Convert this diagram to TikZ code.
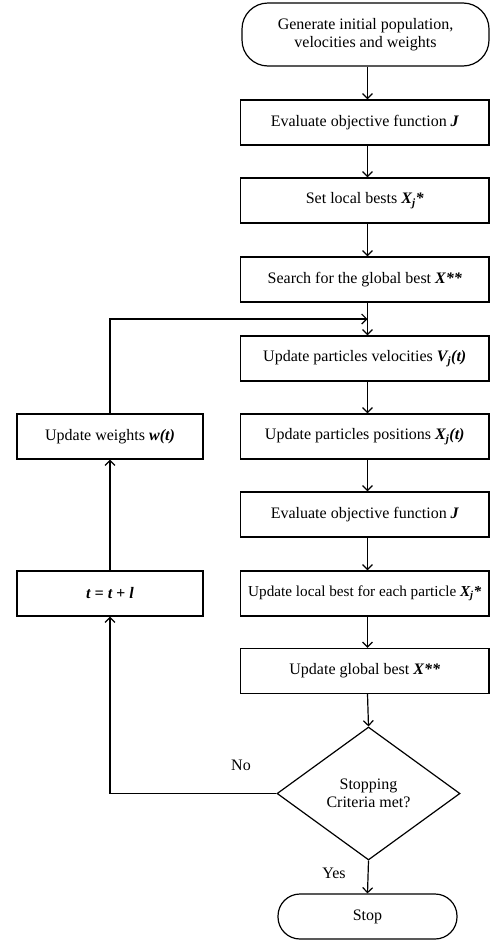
\documentclass[tikz,border=0pt]{standalone}
\usepackage{fontspec}
\setmainfont{Liberation Serif}
\usetikzlibrary{arrows.meta,shapes.geometric}
\newcommand{\bi}[1]{{\bfseries\itshape #1}}
\begin{document}
\begin{tikzpicture}[x=1pt,y=-1pt,
  line width=1.2pt,
  font=\fontsize{16}{18.5}\selectfont,
  proc/.style={draw, rectangle, minimum width=248.5pt, minimum height=45pt, inner sep=1pt, align=center},
  lproc/.style={draw, rectangle, minimum width=186pt, minimum height=45pt, inner sep=2pt, align=center},
  term/.style={draw, rectangle, rounded corners=#1, align=center, inner sep=2pt},
  dec/.style={draw, diamond, minimum width=183pt, minimum height=133pt, inner sep=0pt, align=center},
  arr/.style={-{Straight Barb[length=5pt,width=10pt]}},
  lbl/.style={inner sep=0pt}
]
\useasboundingbox (0,0) rectangle (490,940);
\coordinate (axis) at (367.5,0);
\node[term=26pt, minimum width=247pt, minimum height=63pt] (start) at (365.5,34.5) {Generate initial population,\\velocities and weights};
\node[proc] (b1) at (364.75,122.5) {Evaluate objective function \bi{J}};
\node[proc] (b2) at (364.75,200.5) {Set local bests \bi{X\textsubscript{j}*}};
\node[proc] (b3) at (364.75,279.5) {Search for the global best \bi{X**}};
\node[proc] (b4) at (364.75,358.5) {Update particles velocities \bi{V\textsubscript{j}(t)}};
\node[proc] (b5) at (364.75,436.5) {Update particles positions \bi{X\textsubscript{j}(t)}};
\node[proc] (b6) at (364.75,514.5) {Evaluate objective function \bi{J}};
\node[proc, font=\fontsize{15.2}{17.5}\selectfont] (b7) at (364.75,593.5) {Update local best for each particle \bi{X\textsubscript{j}*}};
\node[proc] (b8) at (364.75,671) {Update global best \bi{X**}};
\node[dec] (d) at (368.5,793.5) {Stopping\\Criteria met?};
\node[term=22pt, minimum width=179pt, minimum height=45pt] (stop) at (367.5,916.5) {Stop};
\node[lproc] (w) at (110,436.5) {Update weights \bi{w(t)}};
\node[lproc] (t) at (110,593.5) {\bi{t = t + l}};
\coordinate (merge) at (367.5,319);
\node[lbl] (no) at (241,765) {No};
\node[lbl] (yes) at (334,873) {Yes};

\draw[arr] (start.south -| axis) -- (b1.north -| axis);
\draw[arr] (b1.south -| axis) -- (b2.north -| axis);
\draw[arr] (b2.south -| axis) -- (b3.north -| axis);
\draw[arr] (b3.south -| axis) -- (b4.north -| axis);
\draw[arr] (b4.south -| axis) -- (b5.north -| axis);
\draw[arr] (b5.south -| axis) -- (b6.north -| axis);
\draw[arr] (b6.south -| axis) -- (b7.north -| axis);
\draw[arr] (b7.south -| axis) -- (b8.north -| axis);
\draw[arr] (b8.south -| axis) -- (d.north);
\draw[arr] (d.south) -- (stop.north);
\draw[arr] (d.west) -| (t.south);
\draw[arr] (t.north) -- (w.south);
\draw[arr] (w.north) |- (merge);
\end{tikzpicture}
\end{document}
